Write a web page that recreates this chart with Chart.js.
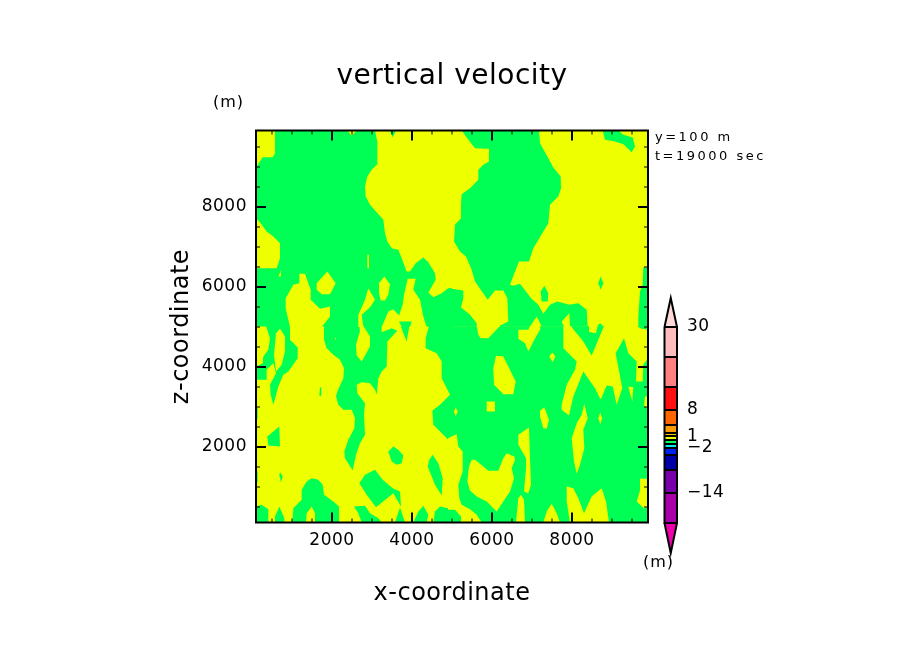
<!DOCTYPE html>
<html>
<head>
<meta charset="utf-8">
<title>vertical velocity</title>
<script src="https://cdn.jsdelivr.net/npm/chart.js"></script>
<style>
  html, body { margin: 0; padding: 0; background: #fff; }
  #plot { position: absolute; left: 0; top: 0; }
  #bar { position: absolute; left: 640px; top: 285px; }
</style>
</head>
<body>
<canvas id="plot" width="904" height="654"></canvas>
<canvas id="bar" width="100" height="285"></canvas>
<script>
// contour outlines, flat x,z lists in metres
const greenAreas = [
  [575,9900, 2383,9900, 2492,9767, 2617,9900, 3075,9900, 3133,9625, 3133,9059, 2992,8917, 2883,8750, 2825,8500, 2842,8250, 2950,8042, 3117,7859, 3283,7667, 3325,7334, 3383,7125, 3492,6959, 3658,6917, 3742,6709, 3867,6375, 3950,6375, 4092,6584, 4283,6725, 4408,6609, 4575,6334, 4592,6167, 4408,5850, 4533,5734, 4742,5834, 4908,5959, 5000,5959, 5000,5000, 100,5000, 100,6459, 617,6459, 700,6709, 700,7084, 533,7250, 367,7375, 200,7600, 100,7709, 100,9000, 117,9000, 267,9234, 517,9234, 575,9334],
  [3450,9900, 3600,9900, 3517,9725],
  [5242,9900, 5408,9667, 5575,9459, 5925,9442, 5925,9125, 5783,9042, 5658,8917, 5658,8667, 5450,8459, 5242,8309, 5225,8084, 5225,7709, 5075,7542, 5050,7125, 5200,6875, 5350,6750, 5492,6417, 5575,6125, 5892,5667, 6075,5900, 6283,5900, 6383,5709, 6408,5125, 6158,5000, 6950,5000, 7117,5250, 7242,5000, 7800,5000, 7742,5125, 7933,5334, 7950,5000, 8392,5000, 8367,5417, 8158,5584, 7933,5542, 7633,5625, 7450,5542, 7283,5317, 7158,5542, 6975,5709, 6883,5834, 6700,6067, 6533,6017, 6450,6042, 6575,6375, 6675,6625, 6925,6625, 7033,6959, 7283,7375, 7408,7584, 7450,8042, 7658,8250, 7725,8459, 7717,8750, 7533,8975, 7408,9209, 7200,9584, 7175,9900],
  [4900,5959, 5283,5900, 5283,5709, 5225,5475, 5450,5292, 5617,5084, 5617,5000, 4900,5000],
  [8767,9900, 8825,9667, 9075,9625, 9283,9559, 9492,9359, 9575,9500, 9517,9725, 9283,9792, 9158,9900],
  [8717,6250, 8783,6084, 8717,5917, 8658,6084],
  [7308,6017, 7408,5834, 7392,5625, 7242,5625, 7217,5875],
  [9783,6484, 9900,6484, 9900,5000, 9658,5000, 9658,5250, 9700,5875, 9767,6042],
  [8617,5000, 8700,5080, 8800,5000],
  [4950,5005, 9900,5005, 9900,100, 4950,100],
  [350,5010, 950,5010, 950,4667, 1142,4475, 1142,4209, 908,3875, 783,3792, 658,3500, 533,3042, 467,3292, 450,3542, 600,3834, 533,4084, 367,3917, 367,3667, 100,3667, 100,4000, 267,4084, 283,4250, 408,4417, 450,4709],
  [1800,5010, 1800,4667, 1867,4459, 2033,4292, 2200,4167, 2300,3959, 2283,3709, 2133,3375, 2100,3250, 2158,3042, 2283,2917, 2492,2917, 2575,2709, 2558,2459, 2408,2167, 2308,1875, 2325,1709, 2517,1400, 2600,1792, 2700,2084, 2825,2292, 2800,2792, 2825,3084, 2633,3334, 2617,3542, 2742,3609, 2950,3584, 3075,3417, 3117,3292, 3158,3709, 3242,3875, 3367,4000, 3383,4625, 3633,4892, 3492,4959, 3242,4859, 3242,5010],
  [3717,5010, 3933,5010, 3867,4625, 3800,4792],
  [4425,5010, 4342,4709, 4342,4459, 4617,4334, 4742,4125, 4742,3709, 4950,3292, 4700,3042, 4508,2892, 4533,2542, 4908,2167, 5000,2292, 5000,5010],
  [100,2959, 142,2959, 142,2692, 100,2692],
  [683,2500, 700,2000, 408,2025, 383,2250],
  [1700,3475, 1733,3475, 1733,3267, 1683,3267],
  [3408,1875, 3533,2000, 3658,1917, 3783,1775, 3742,1584, 3617,1542, 3492,1625],
  [4517,1792, 4658,1584, 4767,1209, 4742,775, 4575,1042, 4392,1500, 4433,1667],
  [100,1375, 142,1375, 142,1108, 100,1108],
  [700,1358, 767,1250, 725,1100, 683,1292],
  [1492,1209, 1658,1167, 1767,1042, 1800,792, 2033,625, 2175,500, 2175,100, 1575,100, 1575,334, 1492,500, 1367,334, 1350,100, 1008,100, 1033,459, 1242,667, 1242,917, 1367,1125],
  [100,500, 242,542, 408,434, 408,100, 100,100],
  [683,500, 808,209, 808,100, 575,100, 575,250],
  [3075,1417, 3267,1167, 3517,959, 3700,875, 3725,500, 3533,834, 3100,484, 2867,792, 2683,1084, 2825,1292],
  [2550,500, 2825,517, 2950,334, 3158,209, 3242,100, 2742,100, 2658,334],
  [3700,475, 3825,100, 3575,100],
  [4283,517, 4408,292, 4367,100, 4033,100, 4158,375],
  [4700,500, 5075,417, 5075,100, 4533,100, 4575,375]
];
const yellowAreas = [
  [1883,6375, 2092,6084, 1950,5809, 1742,5809, 1617,5917, 1617,6084],
  [2883,6792, 2925,6792, 2925,6459, 2883,6459],
  [725,6400, 658,6250, 725,6250],
  [1183,6317, 1325,6317, 1467,5917, 1467,5667, 1700,5442, 1950,5500, 1950,5250, 1742,4985, 950,4985, 842,5459, 842,5709, 1033,6042, 1183,6084],
  [2908,5959, 3075,5667, 2950,5484, 2742,5292, 2783,4985, 2658,4985, 2658,5292, 2825,5667],
  [3308,6250, 3450,6059, 3408,5792, 3325,5650, 3217,5650, 3175,5834, 3175,6084],
  [3892,6192, 4092,6192, 4033,5917, 4200,5667, 4283,5250, 4367,4985, 3950,4985, 3992,5125, 3675,5125, 3742,4985, 3242,4985, 3408,5375, 3533,5434, 3675,5275, 3767,5542, 3800,5792],
  [700,4942, 825,4750, 825,4375, 742,4042, 600,3875, 550,4292, 600,4834],
  [2683,5010, 2783,5010, 2950,4750, 2950,4500, 2742,4125, 2617,4275, 2600,4542, 2700,4892],
  [2075,4710, 2100,4710, 2100,4680, 2075,4680],
  [5617,5010, 5658,4792, 5717,4709, 5908,4709, 6200,5010],
  [6658,4692, 6658,4917, 6908,4917, 6950,5010, 7217,5010, 7200,4917, 7033,4625, 6908,4375, 6825,4584],
  [7783,5010, 7783,4459, 8117,4125, 8075,3917, 7867,3542, 7742,3042, 7742,2917, 7925,2775, 8033,3250, 8283,3875, 8575,3459, 8717,3167, 8867,3525, 9017,3500, 9117,3042, 9258,3459, 9092,4334, 9300,4709, 9408,4334, 9617,4125, 9600,3625, 9767,3625, 9783,4042, 9900,4209, 9900,4917, 9742,4942, 9617,5010, 8800,5010, 8492,4275, 8283,4625, 7967,5010],
  [8425,5010, 8425,4860, 8600,4830, 8640,5010],
  [7508,4359, 7583,4250, 7517,4109, 7433,4250],
  [6100,4267, 6283,4250, 6408,4000, 6592,3625, 6533,3309, 6283,3309, 6050,3542, 6033,3959],
  [5867,3125, 6075,3125, 6075,2875, 5867,2875],
  [5092,2984, 5142,2875, 5092,2750, 5050,2875],
  [7308,2984, 7425,2667, 7367,2442, 7283,2459, 7200,2750, 7200,2892],
  [8308,3067, 8392,2709, 8283,2417, 8308,1959, 8200,1542, 8117,1317, 8050,1625, 7992,2209, 8117,2584, 8242,2792],
  [8708,2859, 8750,2709, 8708,2542, 8658,2709],
  [9408,3500, 9533,3484, 9508,3125, 9450,3334],
  [9825,3250, 9900,3250, 9900,2959, 9800,3000],
  [6658,2292, 6925,2475, 6950,1709, 6975,1042, 6908,834, 6800,875, 6850,1459, 6850,1709, 6658,2042],
  [6600,100, 6658,709, 6725,792, 6800,667, 6825,100],
  [7283,100, 7367,375, 7492,567, 7617,334, 7700,100],
  [7867,1000, 8033,959, 8158,709, 8300,334, 8492,750, 8742,959, 8850,625, 8925,100, 7950,100, 7867,625],
  [9700,1192, 9900,1192, 9900,500, 9800,450, 9617,625, 9700,900],
  [5492,1667, 5575,1667, 5783,1500, 5908,1392, 6158,1392, 6283,1709, 6367,1834, 6558,1750, 6575,1667, 6492,1459, 6550,1209, 6450,875, 6283,625, 6117,375, 5867,625, 5617,750, 5450,900, 5383,1125, 5425,1500],
  [4900,2209, 5117,2309, 5158,2000, 5267,1875, 5267,1375, 5158,1042, 5183,709, 5242,542, 5450,434, 5617,292, 5742,100, 5225,100, 5225,250, 5075,417, 4900,417]
];

const axisTicks = [500, 1000, 1500, 2000, 2500, 3000, 3500, 4000, 4500, 5000, 5500, 6000, 6500, 7000, 7500, 8000, 8500, 9000, 9500];
const axisLabels = [2000, 4000, 6000, 8000];

const levels = [30, 22, 14, 8, 4, 2, 1, 0, -1, -2, -4, -8, -14, -22];
const levelColors = ["#ffbcbc", "#ff8080", "#ff1010", "#ff6600", "#ff9900", "#ffc800", "#eeff00", "#00ff55", "#00eeee", "#0022ee", "#0000aa", "#7700aa", "#aa00aa"];
const levelLabels = [30, 8, 1, -2, -14];

const YELLOW = "#eeff00";
const GREEN = "#00ff55";

function toPoints(list) {
  const pts = [];
  for (let i = 0; i < list.length; i += 2) pts.push({ x: list[i], y: list[i + 1] });
  return pts;
}

function areaDataset(list, color) {
  return { data: toPoints(list), backgroundColor: color, showLine: false, pointRadius: 0 };
}

function putText(ctx, text, x, y, size, spacing) {
  ctx.save();
  ctx.letterSpacing = spacing + "px";
  ctx.font = size + 'px "DejaVu Sans"';
  ctx.fillStyle = "#000";
  ctx.textBaseline = "middle";
  ctx.fillText(text, x, y);
  ctx.restore();
}

// closed contour areas: scatter has no closed fill, so paint them here using the chart's scales
const contourFill = {
  id: "contourFill",
  beforeDraw(chart) {
    chart.ctx.letterSpacing = "0.5px";
  },
  beforeDatasetsDraw(chart) {
    const { ctx, chartArea: a, scales } = chart;
    ctx.save();
    ctx.beginPath();
    ctx.rect(a.left, a.top, a.right - a.left, a.bottom - a.top);
    ctx.clip();
    ctx.fillStyle = YELLOW;
    ctx.fillRect(a.left, a.top, a.right - a.left, a.bottom - a.top);
    chart.data.datasets.forEach((ds) => {
      ctx.fillStyle = ds.backgroundColor;
      ctx.beginPath();
      ds.data.forEach((p, i) => {
        const px = scales.x.getPixelForValue(p.x);
        const py = scales.y.getPixelForValue(p.y);
        if (i === 0) ctx.moveTo(px, py);
        else ctx.lineTo(px, py);
      });
      ctx.closePath();
      ctx.fill();
    });
    ctx.restore();
  },
  afterDatasetsDraw(chart) {
    const { ctx, chartArea: a, scales } = chart;
    ctx.save();
    ctx.strokeStyle = "#000";
    axisTicks.forEach((v) => {
      const major = axisLabels.includes(v);
      const len = major ? 10 : 4;
      ctx.lineWidth = major ? 2 : 1;
      const px = Math.round(scales.x.getPixelForValue(v));
      const py = Math.round(scales.y.getPixelForValue(v));
      ctx.beginPath();
      ctx.moveTo(px, a.top); ctx.lineTo(px, a.top + len);
      ctx.moveTo(px, a.bottom); ctx.lineTo(px, a.bottom - len);
      ctx.moveTo(a.left, py); ctx.lineTo(a.left + len, py);
      ctx.moveTo(a.right, py); ctx.lineTo(a.right - len, py);
      ctx.stroke();
    });
    ctx.lineWidth = 2;
    ctx.strokeRect(a.left, a.top, a.right - a.left, a.bottom - a.top);
    ctx.restore();
    putText(ctx, "(m)", 213, 103, 16, 1);
    putText(ctx, "(m)", 643, 563, 16, 1);
    putText(ctx, "y=100 m", 655, 138, 13, 2.5);
    putText(ctx, "t=19000 sec", 655, 157, 13, 2.5);
  }
};

new Chart(document.getElementById("plot"), {
  type: "scatter",
  data: {
    datasets: [
      ...greenAreas.map((a) => areaDataset(a, GREEN)),
      ...yellowAreas.map((a) => areaDataset(a, YELLOW))
    ]
  },
  plugins: [contourFill],
  options: {
    responsive: false,
    animation: false,
    devicePixelRatio: 1,
    layout: { autoPadding: false, padding: { left: 163, right: 163, top: 0, bottom: 42 } },
    plugins: {
      legend: { display: false },
      tooltip: { enabled: false },
      title: {
        display: true,
        text: "vertical velocity",
        color: "#000",
        font: { family: "DejaVu Sans", size: 28, weight: "normal" },
        padding: { top: 60, bottom: 36.9 }
      }
    },
    scales: {
      x: {
        type: "linear",
        min: 100,
        max: 9900,
        afterBuildTicks: (s) => { s.ticks = axisTicks.map((value) => ({ value })); },
        afterFit: (s) => { s.height = 89.5; },
        grid: { display: false, drawTicks: false },
        border: { display: false },
        ticks: {
          autoSkip: false,
          maxRotation: 0,
          padding: 8,
          color: "#000",
          font: { family: "DejaVu Sans", size: 17 },
          callback: (v) => (axisLabels.includes(v) ? String(v) : "")
        },
        title: {
          display: true,
          text: "x-coordinate",
          color: "#000",
          font: { family: "DejaVu Sans", size: 24 }
        }
      },
      y: {
        type: "linear",
        min: 100,
        max: 9900,
        afterBuildTicks: (s) => { s.ticks = axisTicks.map((value) => ({ value })); },
        afterFit: (s) => { s.width = 93; },
        grid: { display: false, drawTicks: false },
        border: { display: false },
        ticks: {
          autoSkip: false,
          padding: 9,
          color: "#000",
          font: { family: "DejaVu Sans", size: 17 },
          callback: (v) => (axisLabels.includes(v) ? String(v) : "")
        },
        title: {
          display: true,
          text: "z-coordinate",
          color: "#000",
          font: { family: "DejaVu Sans", size: 24 }
        }
      },
      // empty right axis, only keeps the plot box where it belongs
      yr: {
        type: "linear",
        position: "right",
        afterFit: (s) => { s.width = 93; },
        grid: { display: false, drawTicks: false },
        border: { display: false },
        ticks: { display: false }
      }
    }
  }
});

const lastLevel = levels[levels.length - 1];
const outline = { type: "line", xAxisID: "xa", borderColor: "#000", borderWidth: 2, pointRadius: 0, tension: 0, clip: false, order: -1 };

new Chart(document.getElementById("bar"), {
  data: {
    labels: ["w"],
    datasets: [
      ...levelColors.map((color, i) => ({
        type: "bar",
        data: [[levels[i + 1], levels[i]]],
        backgroundColor: color,
        barPercentage: 1,
        categoryPercentage: 1,
        grouped: false
      })),
      { ...outline, data: [{ x: 0, y: levels[0] }, { x: 0.5, y: 37.7 }, { x: 1, y: levels[0] }], fill: { target: { value: levels[0] } }, backgroundColor: "#ffd8d8" },
      { ...outline, data: [{ x: 0, y: lastLevel }, { x: 0.5, y: -30 }, { x: 1, y: lastLevel }], fill: { target: { value: lastLevel } }, backgroundColor: "#ee00aa" },
      { ...outline, data: [{ x: 0, y: levels[0] }, { x: 0, y: lastLevel }, { x: 1, y: lastLevel }, { x: 1, y: levels[0] }, { x: 0, y: levels[0] }], fill: false }
    ]
  },
  plugins: [{ id: "spacing", beforeDraw(chart) { chart.ctx.letterSpacing = "0.5px"; } }],
  options: {
    responsive: false,
    animation: false,
    devicePixelRatio: 1,
    layout: { autoPadding: false, padding: { left: 24.5, right: 0, top: 10, bottom: 14 } },
    plugins: { legend: { display: false }, tooltip: { enabled: false } },
    scales: {
      x: { type: "category", display: false },
      xa: { type: "linear", min: 0, max: 1, display: false },
      y: {
        type: "linear",
        position: "right",
        min: -30.75,
        max: 38.5,
        afterBuildTicks: (s) => { s.ticks = levels.map((value) => ({ value })); },
        // labels must not squeeze the value range, the bar spans the full plot height
        afterFit: (s) => { s.width = 63; s.paddingTop = 0; s.paddingBottom = 0; },
        border: { display: false },
        grid: { z: 1, color: "#000", lineWidth: 2, drawTicks: false },
        ticks: {
          autoSkip: false,
          padding: 10,
          color: "#000",
          font: { family: "DejaVu Sans", size: 17 },
          callback: (v) => (levelLabels.includes(v) ? String(v).replace("-", "\u2212") : "")
        }
      }
    }
  }
});
</script>
</body>
</html>
